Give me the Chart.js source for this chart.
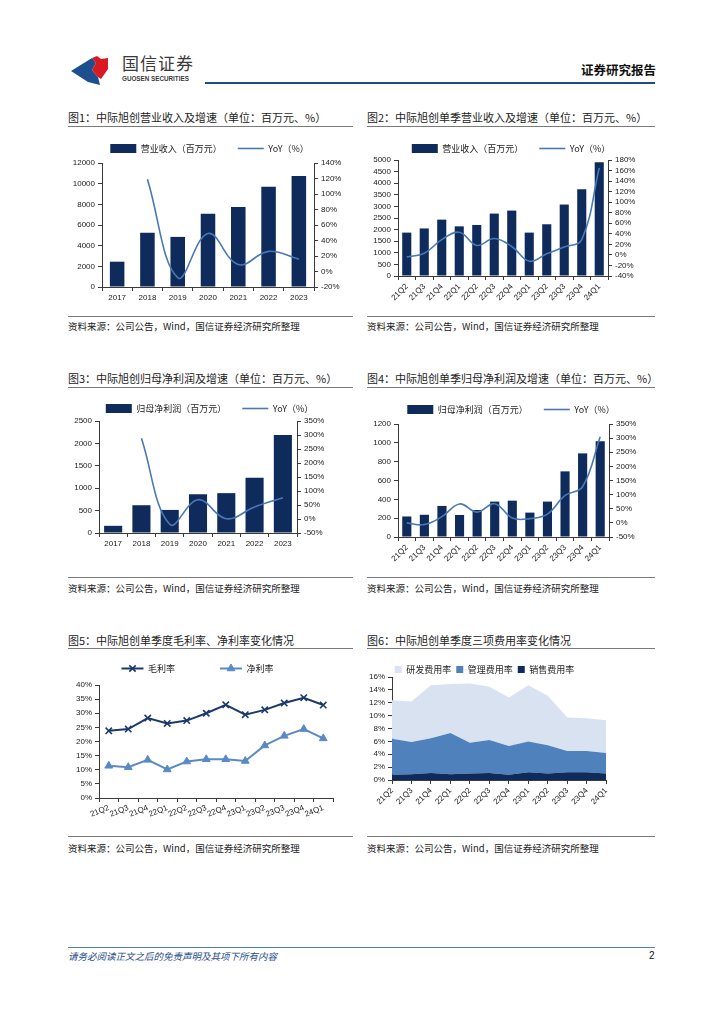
<!DOCTYPE html>
<html><head><meta charset="utf-8">
<script src="https://cdn.jsdelivr.net/npm/chart.js@4.4.0/dist/chart.umd.min.js"></script>
<style>
body{margin:0;width:724px;height:1024px;background:#fff;position:relative;font-family:'Noto Sans CJK SC',sans-serif;overflow:hidden}
.abs{position:absolute}
.title{position:absolute;font-size:11px;line-height:14px;color:#222;white-space:nowrap}
.rule{position:absolute;height:0;border-top:1.3px solid #7a7a7a}
.src{position:absolute;font-size:9.5px;line-height:12px;color:#222;white-space:nowrap}
canvas{position:absolute}
</style></head><body>

<svg class="abs" style="left:70px;top:55px" width="42" height="32" viewBox="0 0 42 32">
  <path d="M1 16 L22 3 L26 8 L22 15 L28 22 L30 30 L18 27 Z" fill="#1d4f8f"/>
  <path d="M22 3 L27 1 L31 4 L38 3 L38 14 L31 24 L28 22 L22 15 L26 8 Z" fill="#d81920"/>
</svg>
<div class="abs" style="left:122px;top:53px;font-size:17px;line-height:20px;color:#3a3a3a;letter-spacing:1px">国信证券</div>
<div class="abs" style="left:122px;top:75px;font-size:6.3px;line-height:8px;font-family:'Liberation Sans',Arial,sans-serif;font-weight:bold;color:#3a3a3a">GUOSEN SECURITIES</div>
<div class="abs" style="right:68px;top:62px;font-size:12.5px;line-height:16px;font-weight:bold;color:#111">证券研究报告</div>
<div class="abs" style="left:205px;top:82px;width:450px;height:2px;background:#1f4e79"></div>

<div class="title" style="left:68px;top:110px">图1：中际旭创营业收入及增速（单位：百万元、%）</div>
<div class="rule" style="left:68px;top:126px;width:285px"></div>
<div class="title" style="left:367px;top:110px">图2：中际旭创单季营业收入及增速（单位：百万元、%）</div>
<div class="rule" style="left:367px;top:126px;width:288px"></div>
<div class="rule" style="left:68px;top:316px;width:285px"></div>
<div class="src" style="left:68px;top:320px">资料来源：公司公告，Wind，国信证券经济研究所整理</div>
<div class="rule" style="left:367px;top:316px;width:288px"></div>
<div class="src" style="left:367px;top:320px">资料来源：公司公告，Wind，国信证券经济研究所整理</div>

<div class="title" style="left:68px;top:371px">图3：中际旭创归母净利润及增速（单位：百万元、%）</div>
<div class="rule" style="left:68px;top:387px;width:285px"></div>
<div class="title" style="left:367px;top:371px">图4：中际旭创单季归母净利润及增速（单位：百万元、%）</div>
<div class="rule" style="left:367px;top:387px;width:288px"></div>
<div class="rule" style="left:68px;top:577px;width:285px"></div>
<div class="src" style="left:68px;top:582px">资料来源：公司公告，Wind，国信证券经济研究所整理</div>
<div class="rule" style="left:367px;top:577px;width:288px"></div>
<div class="src" style="left:367px;top:582px">资料来源：公司公告，Wind，国信证券经济研究所整理</div>

<div class="title" style="left:68px;top:633px">图5：中际旭创单季度毛利率、净利率变化情况</div>
<div class="rule" style="left:68px;top:648px;width:285px"></div>
<div class="title" style="left:367px;top:633px">图6：中际旭创单季度三项费用率变化情况</div>
<div class="rule" style="left:367px;top:648px;width:288px"></div>
<div class="rule" style="left:68px;top:836px;width:285px"></div>
<div class="src" style="left:68px;top:842px">资料来源：公司公告，Wind，国信证券经济研究所整理</div>
<div class="rule" style="left:367px;top:836px;width:288px"></div>
<div class="src" style="left:367px;top:842px">资料来源：公司公告，Wind，国信证券经济研究所整理</div>

<div class="abs" style="left:68px;top:947px;width:587px;height:1px;background:#4f7fb8"></div>
<div class="abs" style="left:68px;top:950px;font-size:9.5px;line-height:12px;font-style:italic;color:#1f4e8c">请务必阅读正文之后的免责声明及其项下所有内容</div>
<div class="abs" style="left:649px;top:950px;font-size:10px;line-height:12px;color:#111;font-family:'Liberation Sans',Arial,sans-serif">2</div>

<canvas id="c1" width="295" height="177" style="left:62px;top:128px"></canvas>
<canvas id="c2" width="298" height="174" style="left:362px;top:128px"></canvas>
<canvas id="c3" width="295" height="163" style="left:62px;top:388px"></canvas>
<canvas id="c4" width="298" height="176" style="left:362px;top:389px"></canvas>
<canvas id="c5" width="278" height="201" style="left:62px;top:619px"></canvas>
<canvas id="c6" width="253" height="152" style="left:362px;top:660px"></canvas>

<script>
// ---- data ----
const years = ['2017','2018','2019','2020','2021','2022','2023'];
const quarters = ['21Q2','21Q3','21Q4','22Q1','22Q2','22Q3','22Q4','23Q1','23Q2','23Q3','23Q4','24Q1'];
const annualRevenue = [2450, 5250, 4850, 7100, 7750, 9700, 10750];
const annualRevenueYoY = [null, 119, -8, 49, 9, 26, 16];
const quarterRevenue = [1870, 2050, 2430, 2140, 2200, 2690, 2820, 1870, 2230, 3080, 3740, 4900];
const quarterRevenueYoY = [-4, 3, 29, 43, 18, 31, 16, -12, 2, 15, 29, 165];
const annualProfit = [160, 620, 515, 865, 890, 1235, 2190];
const annualProfitYoY = [null, 288, -19, 69, 1, 43, 76];
const quarterProfit = [218, 236, 330, 234, 287, 376, 386, 259, 376, 697, 888, 1016];
const quarterProfitYoY = [0, -6, 22, 67, 38, 68, 17, 15, 31, 97, 128, 305];
const grossMargin = [23.8, 24.4, 28.3, 26.4, 27.4, 30.0, 33.0, 29.5, 31.2, 33.6, 35.5, 32.9];
const netMargin = [11.4, 10.9, 13.5, 10.1, 12.9, 13.7, 13.7, 13.1, 18.6, 22.0, 24.4, 21.1];
const salesRate = [0.8, 0.9, 1.1, 0.9, 1.0, 1.1, 0.8, 1.2, 1.0, 1.2, 1.2, 1.0];
const mgmtRate = [5.6, 5.0, 5.4, 6.4, 4.8, 5.1, 4.5, 4.8, 4.4, 3.3, 3.3, 3.2];
const rdRate = [6.0, 6.3, 8.2, 7.6, 9.2, 8.3, 7.5, 8.7, 7.7, 5.2, 5.1, 5.1];

const BAR = '#0f2b5c';
const LINE = '#4a78b5';
const AX = '#3a3a3a';
const TXT = '#222';
const numFont = {family:"'Liberation Sans', Arial, sans-serif", size:8};
const cjkFont = {family:"'Noto Sans CJK SC', sans-serif", size:9};
const plain = v => String(v);
const pct = v => v + '%';

function legendFix(h){
  return {id:'legendFix', beforeLayout(chart){
    const lg = chart.legend;
    if (lg && !lg._fixed){ const f = lg.fit; lg.fit = function(){ f.call(this); this.height = h; }; lg._fixed = true; }
  }};
}

function comboChart(id, labels, bars, yoy, c){
  new Chart(document.getElementById(id), {
    data:{labels, datasets:[
      {type:'bar', label:c.barLabel, data:bars, yAxisID:'y', backgroundColor:BAR, borderWidth:0,
       categoryPercentage:1, barPercentage:c.bp, order:1},
      {type:'line', label:'YoY（%）', data:yoy, yAxisID:'y1', borderColor:LINE, backgroundColor:LINE,
       borderWidth:1.6, pointRadius:0, tension:0.4, fill:false, order:0}
    ]},
    options:{
      responsive:false, animation:false, devicePixelRatio:1,
      layout:{padding:0},
      plugins:{
        tooltip:{enabled:false},
        legend:{position:'top', labels:{
          usePointStyle:true, pointStyleWidth:26, boxHeight:9, padding:16, font:cjkFont, color:TXT,
          sort:(a,b)=>a.datasetIndex-b.datasetIndex,
          generateLabels(chart){
            const items = Chart.defaults.plugins.legend.labels.generateLabels(chart);
            items.forEach(it=>{
              if (it.datasetIndex===0){ it.pointStyle='rect'; it.lineWidth=0; it.fillStyle=BAR; it.strokeStyle=BAR; }
              else { it.pointStyle='line'; it.lineWidth=1.6; it.strokeStyle=LINE; }
            });
            return items;
          }
        }}
      },
      scales:{
        x:{grid:{display:true, drawOnChartArea:false, drawTicks:true, tickLength:4, color:AX, offset:true},
           border:{display:true, color:AX, width:1},
           ticks:{font:numFont, color:TXT, maxRotation:c.rot, minRotation:c.rot, autoSkip:false, padding:2},
           afterFit:s=>{s.height=c.xh;}},
        y:{position:'left', min:0, max:c.ymax,
           ticks:{stepSize:c.ystep, font:numFont, color:TXT, padding:3, autoSkip:false, callback:plain},
           grid:{drawOnChartArea:false, tickLength:4, color:AX}, border:{color:AX, width:1},
           afterFit:s=>{s.width=c.yw;}},
        y1:{position:'right', min:c.rmin, max:c.rmax,
           ticks:{stepSize:c.rstep, font:numFont, color:TXT, padding:3, autoSkip:false, callback:pct},
           grid:{drawOnChartArea:false, tickLength:4, color:AX}, border:{color:AX, width:1},
           afterFit:s=>{s.width=c.rw;}}
      }
    },
    plugins:[legendFix(c.lh)]
  });
}

comboChart('c1', years, annualRevenue, annualRevenueYoY,
  {barLabel:'营业收入（百万元）', bp:0.48, rot:0, xh:18, yw:40, rw:43, lh:35,
   ymax:12000, ystep:2000, rmin:-20, rmax:140, rstep:20});
comboChart('c2', quarters, quarterRevenue, quarterRevenueYoY,
  {barLabel:'营业收入（百万元）', bp:0.52, rot:45, xh:26, yw:36, rw:52, lh:32,
   ymax:5000, ystep:500, rmin:-40, rmax:180, rstep:20});
comboChart('c3', years, annualProfit, annualProfitYoY,
  {barLabel:'归母净利润（百万元）', bp:0.64, rot:0, xh:18, yw:37, rw:60, lh:33,
   ymax:2500, ystep:500, rmin:-50, rmax:350, rstep:50});
comboChart('c4', quarters, quarterProfit, quarterProfitYoY,
  {barLabel:'归母净利润（百万元）', bp:0.52, rot:45, xh:28, yw:36, rw:51, lh:35,
   ymax:1200, ystep:200, rmin:-50, rmax:350, rstep:50});

// ---- chart 5: margins ----
const GM = '#1b3a6b', NM = '#5a8ac6';
const markerPlugin = {id:'legendMarkers', afterDraw(chart){
  const lg = chart.legend; if(!lg || !lg.legendHitBoxes) return;
  const ctx = chart.ctx;
  lg.legendHitBoxes.forEach((hb,i)=>{
    const ds = chart.data.datasets[i];
    ctx.save();
    ctx.strokeStyle = ds.pointBorderColor; ctx.fillStyle = ds.pointBackgroundColor; ctx.lineWidth = ds.pointBorderWidth;
    Chart.helpers.drawPoint(ctx, {pointStyle:ds.pointStyle, radius:ds.pointRadius, borderWidth:ds.pointBorderWidth, rotation:0},
      hb.left + 11, hb.top + 4.5);
    ctx.restore();
  });
}};
new Chart(document.getElementById('c5'), {
  type:'line',
  data:{labels:quarters, datasets:[
    {label:'毛利率', data:grossMargin, borderColor:GM, backgroundColor:GM, borderWidth:2, tension:0,
     pointStyle:'crossRot', pointRadius:4.5, pointBorderColor:GM, pointBackgroundColor:GM, pointBorderWidth:1.6},
    {label:'净利率', data:netMargin, borderColor:NM, backgroundColor:NM, borderWidth:2, tension:0,
     pointStyle:'triangle', pointRadius:4.5, pointBorderColor:NM, pointBackgroundColor:NM, pointBorderWidth:1}
  ]},
  options:{
    responsive:false, animation:false, devicePixelRatio:1,
    layout:{padding:{right:7}},
    plugins:{
      tooltip:{enabled:false},
      legend:{position:'top', labels:{usePointStyle:true, pointStyleWidth:22, boxHeight:9, padding:45, font:cjkFont, color:TXT,
        generateLabels(chart){
          const items = Chart.defaults.plugins.legend.labels.generateLabels(chart);
          items.forEach(it=>{ it.pointStyle='line'; it.lineWidth=2; });
          return items;
        }}}
    },
    scales:{
      x:{offset:true, grid:{display:true, drawOnChartArea:false, tickLength:4, color:AX, offset:true},
         border:{color:AX, width:1},
         ticks:{font:numFont, color:TXT, maxRotation:22, minRotation:22, autoSkip:false, padding:1},
         afterFit:s=>{s.height=22;}},
      y:{min:0, max:40, ticks:{stepSize:5, font:numFont, color:TXT, padding:3, autoSkip:false, callback:pct},
         grid:{drawOnChartArea:false, tickLength:4, color:AX}, border:{color:AX, width:1},
         afterFit:s=>{s.width=37;}}
    }
  },
  plugins:[legendFix(66), markerPlugin]
});

// ---- chart 6: expense ratios (stacked area) ----
const C_SALES = '#0f2b5c', C_MGMT = '#4f81bd', C_RD = '#d9e2f1';
new Chart(document.getElementById('c6'), {
  type:'line',
  data:{labels:quarters, datasets:[
    {label:'销售费用率', data:salesRate, backgroundColor:C_SALES, borderColor:C_SALES, borderWidth:0, pointRadius:0, fill:'origin', tension:0},
    {label:'管理费用率', data:mgmtRate, backgroundColor:C_MGMT, borderColor:C_MGMT, borderWidth:0, pointRadius:0, fill:'-1', tension:0},
    {label:'研发费用率', data:rdRate, backgroundColor:C_RD, borderColor:C_RD, borderWidth:0, pointRadius:0, fill:'-1', tension:0}
  ]},
  options:{
    responsive:false, animation:false, devicePixelRatio:1,
    layout:{padding:{right:8}},
    plugins:{
      tooltip:{enabled:false},
      legend:{position:'top', reverse:true, labels:{boxWidth:7, boxHeight:7, padding:5, font:cjkFont, color:TXT}}
    },
    scales:{
      x:{offset:false, grid:{display:true, drawOnChartArea:false, tickLength:4, color:AX},
         border:{color:AX, width:1},
         ticks:{font:numFont, color:TXT, maxRotation:45, minRotation:45, autoSkip:false, padding:2},
         afterFit:s=>{s.height=32;}},
      y:{stacked:true, min:0, max:16, ticks:{stepSize:2, font:numFont, color:TXT, padding:3, autoSkip:false, callback:pct},
         grid:{drawOnChartArea:false, tickLength:4, color:AX}, border:{color:AX, width:1},
         afterFit:s=>{s.width=30;}}
    }
  },
  plugins:[legendFix(17)]
});
</script>
</body></html>
